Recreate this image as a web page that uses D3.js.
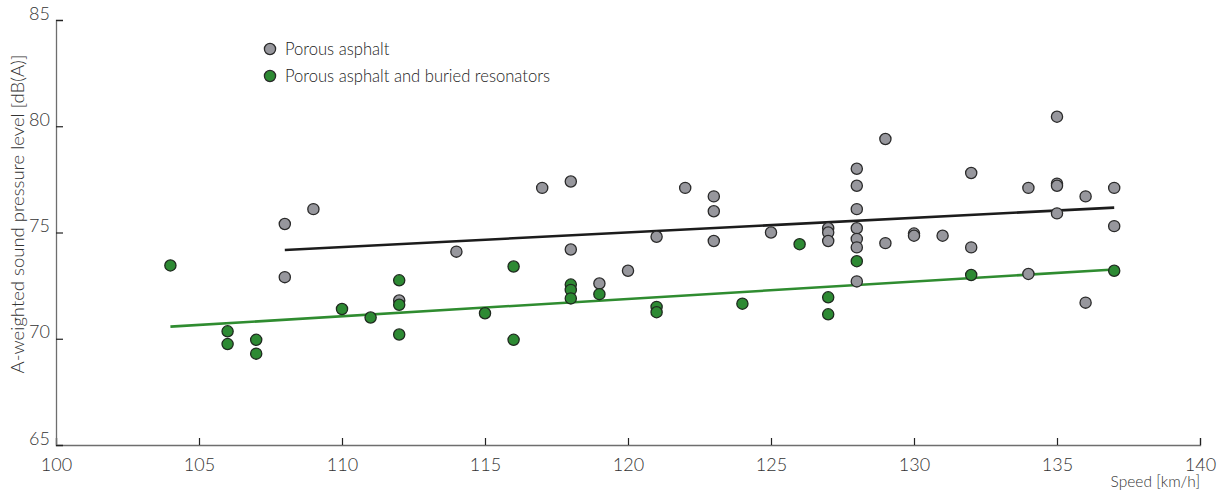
<!DOCTYPE html>
<html><head><meta charset="utf-8">
<script src="https://cdn.jsdelivr.net/npm/d3@7"></script>
<style>
html,body{margin:0;padding:0;background:#fff;}
svg text{font-family:"Lato","Open Sans",sans-serif;font-weight:300;fill:#222;}
</style></head>
<body><svg id="c" width="1226" height="490"></svg>
<script>
// Data
const xTicks = [100,105,110,115,120,125,130,135,140];
const yTicks = [65,70,75,80,85];
const seriesNames = ["Porous asphalt","Porous asphalt and buried resonators"];

const grayX = [108,108,109,112,114,117,118,118,119,120,121,122,123,123,123,125,127,127,127,
  128,128,128,128,128,128,128,129,129,130,130,131,132,132,134,134,135,135,135,135,136,136,137,137];
const grayY = [75.4,72.9,76.1,71.8,74.1,77.1,77.4,74.2,72.6,73.2,74.8,77.1,76.7,76.0,74.6,75.0,75.2,75.0,74.6,
  78.0,77.2,76.1,75.2,74.7,74.3,72.7,79.4,74.5,74.95,74.85,74.85,77.8,74.3,77.1,73.05,80.45,77.3,77.2,75.9,76.7,71.7,77.1,75.3];

const greenX = [104,106,106,107,107,110,111,112,112,112,115,116,116,118,118,118,119,121,121,124,126,127,127,128,132,137];
const greenY = [73.45,70.35,69.75,69.95,69.3,71.4,71.0,72.75,71.6,70.2,71.2,73.4,69.95,72.55,72.3,71.9,72.1,71.5,71.25,71.65,74.45,71.95,71.15,73.65,73.0,73.2];

// trend line endpoints [speed, level]
const grayTrend = [[108,74.18],[137,76.17]];
const greenTrend = [[104,70.57],[137,73.26]];

const svg = d3.select("#c");
const L=56, R=1200, T=20, B=445;
const x = d3.scaleLinear().domain([100,140]).range([L,R]);
const y = d3.scaleLinear().domain([65,85]).range([B,T]);
const axisColor = "#6e6e6e";

// axes
const gx = svg.append("g").attr("transform",`translate(0,${B})`)
  .call(d3.axisBottom(x).tickValues(xTicks).tickSize(-7).tickPadding(12).tickFormat(d3.format("d")));
const gy = svg.append("g").attr("transform",`translate(${L},0)`)
  .call(d3.axisLeft(y).tickValues(yTicks).tickSize(-7).tickPadding(6).tickFormat(d3.format("d")));
[gx,gy].forEach(g=>{
  g.select(".domain").attr("stroke",axisColor).attr("stroke-width",1.3);
  g.selectAll(".tick line").attr("stroke","#222").attr("stroke-width",1.2);
  g.selectAll(".tick text").attr("font-size",18).style("fill","#333");
});
gy.selectAll(".tick text").attr("dy","-0.05em");
gx.selectAll(".tick text").attr("dy","0.75em");

svg.append("text").attr("x",R).attr("y",487).attr("text-anchor","end")
  .attr("font-size",15.5).style("fill","#333").text("Speed [km/h]");
svg.append("text").attr("transform",`translate(24,${T+194}) rotate(-90)`).attr("text-anchor","middle")
  .attr("font-size",18.5).style("fill","#333").text("A-weighted sound pressure level [dB(A)]");

// trend lines
const line = d3.line().x(d=>x(d[0])).y(d=>y(d[1]));
svg.append("path").datum(grayTrend).attr("d",line).attr("fill","none").attr("stroke","#1c1c1c").attr("stroke-width",2.6);
svg.append("path").datum(greenTrend).attr("d",line).attr("fill","none").attr("stroke","#2f8c30").attr("stroke-width",2.6);

// points
const grayFill="#97979d", greenFill="#2d8a33";
svg.append("g").selectAll("circle").data(d3.range(grayX.length)).join("circle")
  .attr("cx",i=>x(grayX[i])).attr("cy",i=>y(grayY[i])).attr("r",5.6)
  .attr("fill",grayFill).attr("stroke","#2a2a2a").attr("stroke-width",1.3);
svg.append("g").selectAll("circle").data(d3.range(greenX.length)).join("circle")
  .attr("cx",i=>x(greenX[i])).attr("cy",i=>y(greenY[i])).attr("r",5.6)
  .attr("fill",greenFill).attr("stroke","#1f2a1f").attr("stroke-width",1.3);

// legend
const leg = svg.append("g");
[grayFill,greenFill].forEach((c,i)=>{
  const yy = 49 + i*27;
  leg.append("circle").attr("cx",270).attr("cy",yy).attr("r",5.6).attr("fill",c).attr("stroke","#2a2a2a").attr("stroke-width",1.3);
  leg.append("text").attr("x",285).attr("y",yy).attr("dy","0.35em").attr("font-size",16.6).style("fill","#222").text(seriesNames[i]);
});
</script></body></html>
